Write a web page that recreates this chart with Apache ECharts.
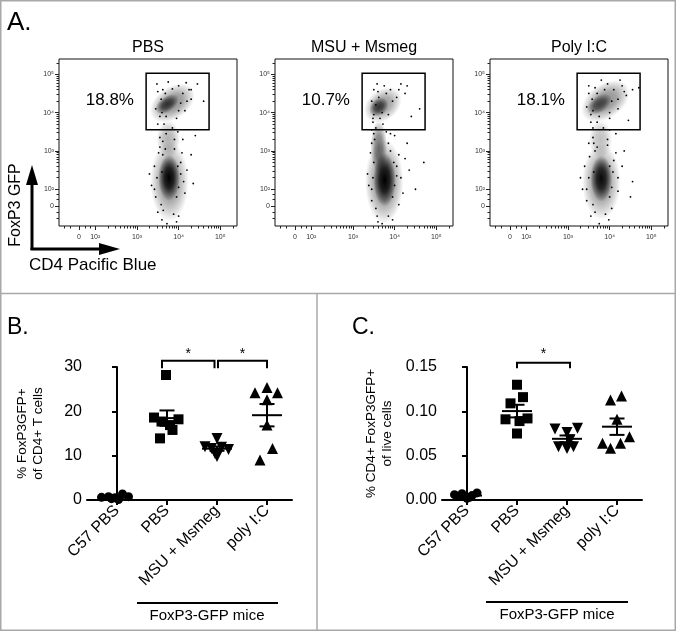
<!DOCTYPE html>
<html><head><meta charset="utf-8">
<script src="https://cdn.jsdelivr.net/npm/echarts@6/dist/echarts.min.js"></script>
<style>html,body{margin:0;padding:0;background:#fff}#c{width:676px;height:631px}</style>
</head><body><div id="c"></div>
<script>
const FONT = '"Liberation Sans", Arial, Helvetica, "DejaVu Sans", sans-serif';

// ---------- Panel A: flow cytometry (display units = decades on biexponential axes) ----------
const flowTitles = ['PBS', 'MSU + Msmeg', 'Poly I:C'];
const flowPercents = ['18.8%', '10.7%', '18.1%'];
const gateX = [3.22, 4.73];
const gateY = [3.55, 5.03];
const pctPos = [2.35, 4.33];
const flowTickVals = [2, 3, 4, 5];
const flowTickLabels = ['10²', '10³', '10⁴', '10⁵'];
const zeroX = 1.61, zeroY = 1.55;
// population summaries: [centerX, centerY, spreadX, spreadY, tiltDeg, density]
const fp1Clusters = [
  [3.78, 2.20, 0.46, 1.05, 0, 0.45], [3.77, 2.30, 0.26, 0.60, 0, 1.0], [3.75, 3.30, 0.28, 0.50, 0, 0.30],
  [3.85, 4.25, 0.60, 0.42, 35, 0.45], [3.72, 4.22, 0.32, 0.20, 35, 0.70]
];
const fp2Clusters = [
  [3.75, 2.20, 0.46, 1.10, 0, 0.50], [3.76, 2.25, 0.27, 0.70, 0, 1.0], [3.62, 3.10, 0.20, 0.70, 0, 0.55],
  [3.72, 4.20, 0.50, 0.40, 40, 0.40], [3.62, 4.15, 0.26, 0.22, 45, 0.70]
];
const fp3Clusters = [
  [3.80, 2.20, 0.46, 1.00, 0, 0.45], [3.80, 2.28, 0.26, 0.60, 0, 0.95], [3.78, 3.30, 0.28, 0.50, 0, 0.25],
  [3.90, 4.30, 0.65, 0.45, 35, 0.45], [3.75, 4.22, 0.34, 0.22, 35, 0.60]
];
const fp1Dots = [[3.35,2.1],[3.42,2.6],[3.5,1.4],[3.55,3.1],[3.6,1.2],[3.62,2.9],[3.9,3.05],[4.05,2.7],[4.12,2.2],[4.2,2.5],[4.0,1.3],[3.95,1.15],[4.3,2.9],[4.1,3.3],[3.7,3.45],[3.85,3.6],[3.65,3.7],[4.4,3.4],[3.5,4.55],[3.55,3.9],[3.62,4.6],[4.0,4.7],[4.1,4.5],[4.25,4.6],[4.3,4.35],[4.45,4.75],[3.45,4.1],[3.95,3.85],[4.15,4.05],[3.75,4.8],[4.6,4.3],[3.3,2.4],[4.35,2.15],[3.72,1.1],[3.88,1.35],
  [3.45,1.8],[3.48,2.3],[3.52,2.95],[3.58,1.6],[3.6,2.45],[3.95,1.8],[4.0,2.05],[4.05,2.4],[4.08,2.95],[3.98,2.6],[3.55,3.35],[3.62,3.25],[3.9,3.3],[3.98,3.5],[3.68,3.05],[3.5,3.7],[3.6,4.0],[3.58,4.35],[3.68,4.5],[3.85,4.62],[4.05,4.25],[4.2,4.3],[4.3,4.6],[4.0,4.05],[3.7,3.9],[3.48,4.75],[4.18,4.78],[3.42,2.0],[4.15,1.9],[3.63,1.45]];
const fp2Dots = [[3.45,2.0],[3.5,2.7],[3.52,3.3],[3.55,3.6],[3.58,1.3],[3.48,3.75],[3.65,3.85],[3.9,3.0],[4.05,2.6],[4.15,2.3],[4.25,2.8],[4.1,1.6],[3.95,1.2],[4.3,3.2],[4.0,3.4],[3.8,3.5],[4.35,2.5],[3.6,4.55],[3.75,4.7],[3.9,4.6],[4.05,4.4],[4.15,4.75],[4.25,4.5],[3.45,4.3],[3.5,3.95],[3.85,3.95],[4.6,4.1],[4.4,3.9],[3.35,2.4],[4.5,2.0],[3.7,1.1],[3.85,1.3],[4.7,2.7],
  [3.45,1.7],[3.48,2.3],[3.42,2.95],[3.55,1.5],[3.95,1.8],[4.0,2.1],[4.05,2.35],[4.1,2.9],[3.98,2.7],[3.45,3.2],[3.5,3.45],[3.85,3.2],[3.9,3.45],[3.72,3.7],[3.45,3.55],[3.48,3.85],[3.55,4.2],[3.5,4.6],[3.62,4.4],[3.8,4.5],[3.95,4.3],[4.1,4.6],[3.7,4.0],[4.3,4.7],[3.58,4.75],[3.38,2.1],[4.2,1.9],[3.6,1.15]];
const fp3Dots = [[3.35,2.0],[3.4,2.6],[3.5,3.2],[3.55,1.3],[3.6,3.6],[3.65,3.0],[3.95,3.15],[4.1,2.75],[4.2,2.3],[4.3,2.6],[4.05,1.5],[3.98,1.2],[4.35,3.0],[4.15,3.45],[3.85,3.6],[3.7,3.75],[4.55,2.2],[3.5,4.5],[3.55,3.95],[3.65,4.65],[3.95,4.75],[4.1,4.6],[4.3,4.7],[4.4,4.45],[4.55,4.6],[4.7,4.65],[3.45,4.15],[4.0,3.85],[4.2,4.1],[3.8,4.85],[4.45,3.8],[3.3,2.3],[4.5,1.8],[3.75,1.1],[3.9,1.35],
  [3.45,1.7],[3.5,2.3],[3.52,2.85],[3.6,1.6],[3.62,2.45],[4.0,1.8],[4.05,2.05],[4.08,2.45],[4.15,2.95],[4.0,2.6],[3.6,3.35],[3.62,3.2],[3.95,3.3],[4.0,3.55],[3.7,3.1],[3.55,3.75],[3.6,4.05],[3.58,4.35],[3.7,4.5],[3.88,4.6],[4.05,4.3],[4.2,4.35],[4.35,4.55],[4.0,4.0],[3.75,3.9],[3.5,4.7],[4.25,4.85],[3.45,2.0],[4.2,1.95],[3.65,1.4]];
const flowClusters = [fp1Clusters, fp2Clusters, fp3Clusters];
const flowDots = [fp1Dots, fp2Dots, fp3Dots];

// ---------- Panels B and C ----------
const categories = ['C57 PBS', 'PBS', 'MSU + Msmeg', 'poly I:C'];
const bC57  = [0.6, 0.75, 0.5, 1.35, 0.75, 0.3, 0.1];
const bPBS  = [28.2, 18.6, 17.7, 18.2, 16.9, 15.8, 13.9];
const bMSU  = [13.9, 12.0, 11.6, 11.9, 11.4, 10.5, 9.8];
const bPoly = [24.2, 25.4, 24.2, 22.6, 16.9, 11.6, 9.0];
const cC57  = [0.006, 0.007, 0.008, 0.003, 0.004, 0.002, 0.005];
const cPBS  = [0.130, 0.116, 0.109, 0.091, 0.092, 0.089, 0.075];
const cMSU  = [0.080, 0.076, 0.081, 0.068, 0.060, 0.058, 0.060];
const cPoly = [0.1128, 0.1173, 0.091, 0.0714, 0.064, 0.064, 0.0583];
const jC57B  = [-0.31, -0.17, -0.04, 0.11, 0.23, -0.11, 0.03];
const jPBSB  = [-0.02, -0.26, -0.11, 0.23, 0.06, 0.11, -0.14];
const jMSUB  = [0, -0.24, -0.11, 0.09, 0.23, -0.04, 0];
const jPolyB = [-0.24, 0, 0.21, 0, 0, 0.11, -0.14];
const jC57C  = [-0.25, -0.1, 0.2, 0.05, -0.15, 0, 0.1];
const jPBSC  = [0, 0.12, -0.13, -0.23, 0.21, 0.05, 0];
const jMSUC  = [-0.24, 0, 0.21, 0.06, -0.17, 0, 0.13];
const jPolyC = [-0.13, 0.09, 0, 0.25, -0.29, 0.07, -0.13];
// significance brackets: [fromX, toX, top, legEnd, starY]
const sigB = [[0.9, 1.95, 31.4, 29.7, 33.0], [2.02, 3.0, 31.4, 29.7, 33.0]];
const sigC = [[1.0, 2.06, 0.1549, 0.1485, 0.164]];

const symbols = ['circle', 'rect', 'triangle', 'triangle'];
const symRot = [0, 0, 180, 0];
const symSize = [9, 10, 11, 11];

// ---------- helpers ----------
function stats(arr) {
  const n = arr.length, m = arr.reduce((a, b) => a + b, 0) / n;
  const sd = Math.sqrt(arr.reduce((a, b) => a + (b - m) * (b - m), 0) / (n - 1));
  return [m, sd / Math.sqrt(n)];
}
const minorTicks = [1.25, 1.4, 1.75, 1.87];
for (let n = 2; n <= 5; n++) for (let k = 2; k <= 9; k++) { const v = n + Math.log10(k); if (v < 5.4) minorTicks.push(v); }
const majorX = [zeroX].concat(flowTickVals), majorY = [zeroY].concat(flowTickVals);
function flowFmt(zero) {
  return v => Math.abs(v - zero) < 1e-6 ? '0' : flowTickLabels[flowTickVals.findIndex(t => Math.abs(t - v) < 1e-6)];
}

const flowLefts = [59, 275, 490];
const grids = flowLefts.map(l => ({ left: l, top: 59, width: 178, height: 167, show: true, borderColor: '#111', borderWidth: 1, backgroundColor: 'transparent' }));
grids.push({ left: 87, top: 367, width: 205, height: 133 });
grids.push({ left: 442, top: 367, width: 200, height: 133 });

const xAxes = [], yAxes = [], series = [];
const tickLbl = { fontSize: 7, color: '#333', fontFamily: FONT };
for (let i = 0; i < 3; i++) {
  xAxes.push({ gridIndex: i, type: 'value', min: 1.13, max: 5.40, position: 'bottom', axisLine: { show: false }, splitLine: { show: false },
    axisTick: { show: true, length: 4, customValues: majorX, lineStyle: { color: '#222', width: 1 } },
    axisLabel: Object.assign({ customValues: majorX, formatter: flowFmt(zeroX), margin: 8 }, tickLbl) });
  yAxes.push({ gridIndex: i, type: 'value', min: 1.04, max: 5.40, position: 'left', axisLine: { show: false }, splitLine: { show: false },
    axisTick: { show: true, length: 4, customValues: majorY, lineStyle: { color: '#222', width: 1 } },
    axisLabel: Object.assign({ customValues: majorY, formatter: flowFmt(zeroY), margin: 5 }, tickLbl) });
}
for (let i = 0; i < 3; i++) {
  xAxes.push({ gridIndex: i, type: 'value', min: 1.13, max: 5.40, position: 'bottom', axisLine: { show: false }, splitLine: { show: false },
    axisTick: { show: true, length: 2.5, customValues: minorTicks, lineStyle: { color: '#222', width: 1 } }, axisLabel: { show: false } });
  yAxes.push({ gridIndex: i, type: 'value', min: 1.04, max: 5.40, position: 'left', axisLine: { show: false }, splitLine: { show: false },
    axisTick: { show: true, length: 2.5, customValues: minorTicks.filter(v => v > 1.04), lineStyle: { color: '#222', width: 1 } }, axisLabel: { show: false } });
}

function renderBlob(params, api) {
  const c = api.coord([api.value(0), api.value(1)]);
  const s = api.size([api.value(2), api.value(3)]);
  const a = api.value(5);
  const col = t => 'rgba(0,0,0,' + t + ')';
  return {
    type: 'circle', shape: { cx: 0, cy: 0, r: s[1] }, x: c[0], y: c[1], scaleX: s[0] / s[1],
    rotation: api.value(4) * Math.PI / 180,
    style: { fill: { type: 'radial', x: 0.5, y: 0.5, r: 0.5, colorStops: [
      { offset: 0, color: col(a) }, { offset: 0.45, color: col(a * 0.78) }, { offset: 0.8, color: col(a * 0.3) }, { offset: 1, color: col(0) }] } }
  };
}
for (let i = 0; i < 3; i++) {
  series.push({ type: 'custom', xAxisIndex: i, yAxisIndex: i, clip: true, silent: true, data: flowClusters[i], renderItem: renderBlob, z: 2 });
  series.push({ type: 'scatter', xAxisIndex: i, yAxisIndex: i, data: flowDots[i], symbolSize: 1.8, itemStyle: { color: '#000', opacity: 1 }, silent: true, z: 3 });
  series.push({ type: 'custom', xAxisIndex: i, yAxisIndex: i, silent: true, z: 4,
    data: [[gateX[0], gateY[0], gateX[1], gateY[1]]],
    renderItem: (params, api) => {
      const p0 = api.coord([api.value(0), api.value(3)]);
      const p1 = api.coord([api.value(2), api.value(1)]);
      const pt = api.coord(pctPos);
      return { type: 'group', children: [
        { type: 'rect', shape: { x: p0[0], y: p0[1], width: p1[0] - p0[0], height: p1[1] - p0[1] }, style: { fill: 'none', stroke: '#000', lineWidth: 1.5 } },
        { type: 'text', x: pt[0], y: pt[1], style: { text: flowPercents[i], fontSize: 17, fontFamily: FONT, fill: '#000', align: 'center', verticalAlign: 'middle' } }
      ] };
    } });
}

// B and C axes
const dotPanels = [
  { grid: 3, min: -0.6, max: 3.5, ymax: 30, interval: 10, dec: 0, name: '% FoxP3GFP+\nof CD4+ T cells', gap: 41,
    vals: [bC57, bPBS, bMSU, bPoly], jit: [jC57B, jPBSB, jMSUB, jPolyB], sig: sigB },
  { grid: 4, min: -0.5, max: 3.5, ymax: 0.15, interval: 0.05, dec: 2, name: '% CD4+ FoxP3GFP+\nof live cells', gap: 47,
    vals: [cC57, cPBS, cMSU, cPoly], jit: [jC57C, jPBSC, jMSUC, jPolyC], sig: sigC }
];
const black2 = { color: '#000', width: 2 };
dotPanels.forEach(p => {
  const xi = xAxes.length, yi = yAxes.length;
  xAxes.push({ gridIndex: p.grid, type: 'value', min: p.min, max: p.max, splitLine: { show: false },
    axisLine: { show: true, onZero: false, lineStyle: black2 },
    axisTick: { show: true, length: 5, customValues: [0, 1, 2, 3], lineStyle: black2 },
    axisLabel: { customValues: [0, 1, 2, 3], formatter: v => categories[Math.round(v)], rotate: 45, fontSize: 16, color: '#000', fontFamily: FONT, margin: 8 } });
  yAxes.push({ gridIndex: p.grid, type: 'value', min: 0, max: p.ymax, interval: p.interval, splitLine: { show: false },
    axisLine: { show: true, lineStyle: black2 }, axisTick: { show: true, length: 5, lineStyle: black2 },
    axisLabel: { fontSize: 16, color: '#000', fontFamily: FONT, margin: 5, formatter: v => v.toFixed(p.dec) },
    name: p.name, nameLocation: 'middle', nameGap: p.gap, nameTextStyle: { fontSize: 13.5, lineHeight: 16, color: '#000', fontFamily: FONT } });
  p.vals.forEach((vals, g) => {
    series.push({ type: 'scatter', xAxisIndex: xi, yAxisIndex: yi, clip: false, z: 3,
      data: vals.map((v, k) => [g + p.jit[g][k], v]), symbol: symbols[g], symbolRotate: symRot[g], symbolSize: symSize[g],
      itemStyle: { color: '#000', opacity: 1 } });
  });
  series.push({ type: 'custom', xAxisIndex: xi, yAxisIndex: yi, clip: false, z: 5, silent: true,
    data: p.vals.map((vals, g) => { const s = stats(vals); return [g, s[0], s[1]]; }),
    renderItem: (params, api) => {
      const g = api.value(0), m = api.value(1), se = api.value(2);
      const L = (x1, y1, x2, y2) => { const a = api.coord([x1, y1]), b = api.coord([x2, y2]);
        return { type: 'line', shape: { x1: a[0], y1: a[1], x2: b[0], y2: b[1] }, style: { stroke: '#000', lineWidth: 2 } }; };
      return { type: 'group', children: [L(g - 0.3, m, g + 0.3, m), L(g, m - se, g, m + se), L(g - 0.15, m + se, g + 0.15, m + se), L(g - 0.15, m - se, g + 0.15, m - se)] };
    } });
  series.push({ type: 'custom', xAxisIndex: xi, yAxisIndex: yi, clip: false, z: 5, silent: true, data: p.sig,
    renderItem: (params, api) => {
      const x0 = api.value(0), x1 = api.value(1), top = api.value(2), leg = api.value(3), sy = api.value(4);
      const pts = [[x0, leg], [x0, top], [x1, top], [x1, leg]].map(q => api.coord(q));
      const st = api.coord([(x0 + x1) / 2, sy]);
      return { type: 'group', children: [
        { type: 'polyline', shape: { points: pts }, style: { stroke: '#000', lineWidth: 2, fill: 'none' } },
        { type: 'text', x: st[0], y: st[1], style: { text: '*', fontSize: 14, fontFamily: FONT, fill: '#000', align: 'center', verticalAlign: 'middle' } }
      ] };
    } });
});

const T = (text, x, y, size, extra) => Object.assign({ type: 'text', x: x, y: y, style: Object.assign({ text: text, fontSize: size, fontFamily: FONT, fill: '#000' }, extra || {}) });
const graphic = [
  { type: 'rect', shape: { x: 0.75, y: 0.75, width: 674.5, height: 629.5 }, style: { fill: 'none', stroke: '#a8a8a8', lineWidth: 1.5 } },
  { type: 'line', shape: { x1: 0, y1: 293.5, x2: 676, y2: 293.5 }, style: { stroke: '#a8a8a8', lineWidth: 1.5 } },
  { type: 'line', shape: { x1: 317, y1: 293.5, x2: 317, y2: 631 }, style: { stroke: '#a8a8a8', lineWidth: 1.5 } },
  T('A.', 7, 10, 26),
  T('B.', 7, 316, 23),
  T('C.', 352, 316, 23),
  T(flowTitles[0], 148, 48, 16, { align: 'center', verticalAlign: 'middle' }),
  T(flowTitles[1], 364, 48, 16, { align: 'center', verticalAlign: 'middle' }),
  T(flowTitles[2], 579, 48, 16, { align: 'center', verticalAlign: 'middle' }),
  { type: 'line', shape: { x1: 32, y1: 250, x2: 32, y2: 180 }, style: { stroke: '#000', lineWidth: 3 } },
  { type: 'polygon', shape: { points: [[26, 185], [32, 165], [38, 185]] }, style: { fill: '#000' } },
  { type: 'line', shape: { x1: 30.5, y1: 249, x2: 104, y2: 249 }, style: { stroke: '#000', lineWidth: 3 } },
  { type: 'polygon', shape: { points: [[99, 243], [120, 249], [99, 255]] }, style: { fill: '#000' } },
  T('FoxP3 GFP', 16, 205, 16, { align: 'center', verticalAlign: 'middle' }),
  T('CD4 Pacific Blue', 29, 265, 17, { verticalAlign: 'middle' }),
  { type: 'line', shape: { x1: 137, y1: 603, x2: 278, y2: 603 }, style: { stroke: '#000', lineWidth: 2 } },
  T('FoxP3-GFP mice', 207, 616, 15, { align: 'center', verticalAlign: 'middle' }),
  { type: 'line', shape: { x1: 486, y1: 602, x2: 628, y2: 602 }, style: { stroke: '#000', lineWidth: 2 } },
  T('FoxP3-GFP mice', 557, 615, 15, { align: 'center', verticalAlign: 'middle' })
];
graphic[13].rotation = Math.PI / 2;

const chart = echarts.init(document.getElementById('c'), null, { renderer: 'canvas' });
chart.setOption({ animation: false, backgroundColor: '#fff', textStyle: { fontFamily: FONT },
  grid: grids, xAxis: xAxes, yAxis: yAxes, series: series, graphic: graphic });
</script></body></html>
